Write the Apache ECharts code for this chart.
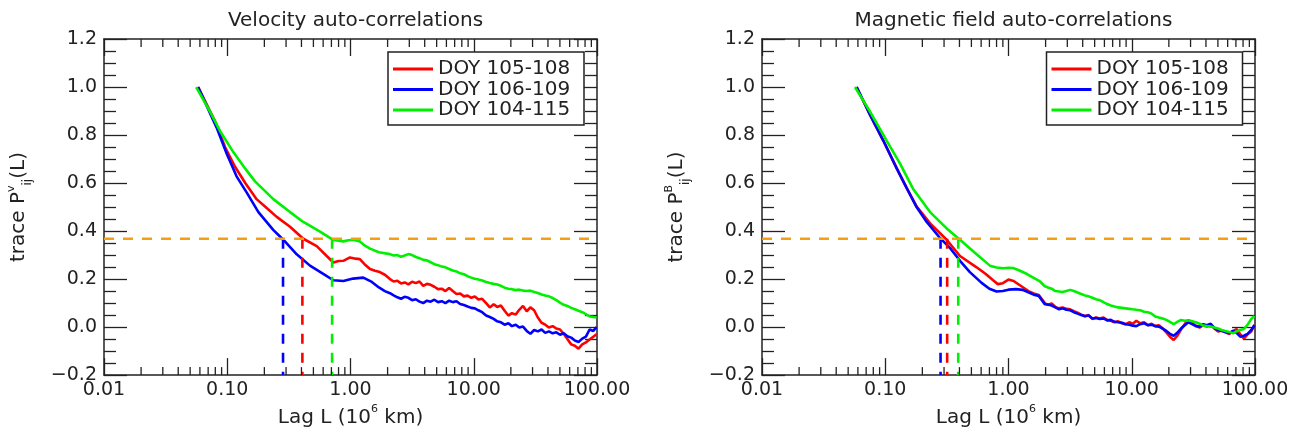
<!DOCTYPE html>
<html>
<head>
<meta charset="utf-8">
<script src="https://cdn.jsdelivr.net/npm/echarts@6/dist/echarts.min.js"></script>
<style>
html,body{margin:0;padding:0;background:#fff;}
#chart{width:1299px;height:433px;}
</style>
</head>
<body>
<div id="chart"></div>
<script>
// ---------------- data ----------------
const panelTitles = ['Velocity auto-correlations', 'Magnetic field auto-correlations'];
const seriesNames = ['DOY 105-108', 'DOY 106-109', 'DOY 104-115'];
const seriesColors = ['#FF0000', '#0000FF', '#00F000'];
const xTickLabels = ['0.01', '0.10', '1.00', '10.00', '100.00'];
const yTickLabels = ['\u22120.2', '0.0', '0.2', '0.4', '0.6', '0.8', '1.0', '1.2'];
const E_FOLD = 0.3679;

// lag grid shared by the noisy tails (10^6 km)
const lagsTail = [2.09, 2.24, 2.4, 2.57, 2.75, 2.95, 3.16, 3.39, 3.63, 3.89, 4.17, 4.47, 4.79, 5.13, 5.5, 5.89, 6.31, 6.76, 7.24, 7.76, 8.32, 8.91, 9.55, 10.2, 10.9, 11.7, 12.6, 13.5, 14.5, 15.5, 16.6, 17.8, 19.1, 20.4, 21.9, 23.4, 25.1, 26.9, 28.8, 30.9, 33.1, 35.5, 38.0, 40.7, 43.7, 46.8, 50.1, 53.7, 57.5, 61.7, 66.1, 70.8, 75.9, 81.3, 87.1, 93.3, 99.0];

// Velocity panel
const lagsRedV = [0.058, 0.0796, 0.0959, 0.1156, 0.140, 0.173, 0.21, 0.252, 0.323, 0.414, 0.532, 0.641, 0.726, 0.80, 0.875, 0.99, 1.10, 1.19, 1.30, 1.44, 1.58, 1.73, 1.90];
const valsRedV = [1.0, 0.858, 0.750, 0.668, 0.60, 0.533, 0.495, 0.459, 0.418, 0.368, 0.337, 0.296, 0.269, 0.275, 0.276, 0.290, 0.285, 0.283, 0.262, 0.242, 0.235, 0.229, 0.218];
const tailRedV = [0.200, 0.190, 0.193, 0.182, 0.186, 0.178, 0.189, 0.183, 0.190, 0.172, 0.180, 0.176, 0.168, 0.158, 0.160, 0.150, 0.163, 0.150, 0.138, 0.140, 0.128, 0.131, 0.122, 0.127, 0.115, 0.118, 0.100, 0.082, 0.095, 0.084, 0.090, 0.068, 0.048, 0.058, 0.052, 0.072, 0.088, 0.066, 0.082, 0.070, 0.040, 0.018, 0.010, -0.002, 0.004, -0.006, -0.010, -0.028, -0.050, -0.072, -0.078, -0.090, -0.072, -0.064, -0.052, -0.040, -0.030];

const lagsBlueV = [0.058, 0.082, 0.099, 0.119, 0.144, 0.179, 0.236, 0.285, 0.366, 0.469, 0.601, 0.726, 0.875, 1.05, 1.27, 1.49, 1.7, 1.9];
const valsBlueV = [1.0, 0.831, 0.722, 0.628, 0.560, 0.479, 0.405, 0.364, 0.303, 0.256, 0.222, 0.195, 0.192, 0.202, 0.206, 0.188, 0.165, 0.150];
const tailBlueV = [0.141, 0.132, 0.124, 0.118, 0.126, 0.122, 0.112, 0.116, 0.106, 0.100, 0.110, 0.106, 0.114, 0.104, 0.108, 0.100, 0.110, 0.104, 0.108, 0.096, 0.092, 0.086, 0.080, 0.078, 0.070, 0.062, 0.048, 0.042, 0.034, 0.024, 0.020, 0.010, 0.016, 0.004, 0.010, -0.002, 0.002, -0.016, -0.028, -0.012, -0.018, -0.010, -0.024, -0.018, -0.026, -0.022, -0.032, -0.026, -0.038, -0.044, -0.056, -0.062, -0.048, -0.040, -0.010, -0.016, 0.000];

const lagsGreenV = [0.056, 0.0724, 0.0873, 0.112, 0.140, 0.168, 0.2364, 0.323, 0.414, 0.566, 0.717, 0.80, 0.875, 0.96, 1.054, 1.19, 1.30, 1.44, 1.7];
const valsGreenV = [1.0, 0.898, 0.817, 0.729, 0.66, 0.607, 0.533, 0.479, 0.438, 0.398, 0.364, 0.360, 0.357, 0.362, 0.364, 0.357, 0.340, 0.327, 0.312];
const tailGreenV = [0.304, 0.298, 0.300, 0.293, 0.298, 0.304, 0.300, 0.292, 0.287, 0.280, 0.278, 0.270, 0.262, 0.258, 0.252, 0.249, 0.242, 0.236, 0.232, 0.224, 0.220, 0.212, 0.206, 0.201, 0.198, 0.194, 0.188, 0.184, 0.180, 0.177, 0.172, 0.164, 0.160, 0.158, 0.154, 0.156, 0.152, 0.150, 0.152, 0.146, 0.142, 0.136, 0.132, 0.128, 0.121, 0.112, 0.102, 0.093, 0.088, 0.080, 0.074, 0.068, 0.062, 0.054, 0.044, 0.042, 0.040];

const crossLagsV = [0.407, 0.2835, 0.709];

// Magnetic field panel
const lagsRedB = [0.0586, 0.0751, 0.0964, 0.1236, 0.149, 0.180, 0.231, 0.315, 0.404, 0.551, 0.65, 0.75, 0.82, 0.90, 1.0, 1.1, 1.29, 1.45, 1.6, 1.76, 1.97];
const valsRedB = [1.0, 0.885, 0.777, 0.662, 0.580, 0.502, 0.432, 0.364, 0.296, 0.249, 0.222, 0.195, 0.179, 0.183, 0.198, 0.192, 0.168, 0.150, 0.140, 0.134, 0.100];
const tailRedB = [0.092, 0.098, 0.084, 0.078, 0.082, 0.076, 0.074, 0.066, 0.060, 0.052, 0.046, 0.050, 0.034, 0.040, 0.036, 0.040, 0.030, 0.026, 0.020, 0.024, 0.016, 0.012, 0.020, 0.014, 0.026, 0.016, 0.020, 0.008, 0.014, 0.004, 0.008, -0.006, -0.022, -0.040, -0.054, -0.036, -0.010, 0.012, 0.030, 0.016, 0.006, -0.002, 0.008, 0.002, 0.012, -0.006, -0.018, -0.014, -0.022, -0.028, -0.018, -0.008, -0.030, -0.048, -0.030, -0.018, 0.010];

const lagsBlueB = [0.0586, 0.0751, 0.0964, 0.1236, 0.149, 0.180, 0.217, 0.278, 0.335, 0.404, 0.486, 0.605, 0.70, 0.80, 0.90, 1.0, 1.15, 1.3, 1.45, 1.6, 1.76, 1.97];
const valsBlueB = [1.0, 0.885, 0.777, 0.662, 0.580, 0.499, 0.438, 0.371, 0.330, 0.276, 0.229, 0.184, 0.160, 0.148, 0.150, 0.156, 0.158, 0.155, 0.145, 0.135, 0.130, 0.095];
const tailBlueB = [0.094, 0.090, 0.082, 0.074, 0.078, 0.072, 0.070, 0.062, 0.056, 0.050, 0.045, 0.048, 0.036, 0.038, 0.034, 0.036, 0.028, 0.030, 0.022, 0.020, 0.018, 0.012, 0.010, 0.006, 0.004, 0.012, 0.016, 0.008, 0.010, 0.004, 0.002, -0.006, -0.016, -0.028, -0.036, -0.024, -0.006, 0.008, 0.020, 0.012, 0.004, 0.002, 0.012, 0.008, 0.014, -0.004, -0.012, -0.016, -0.020, -0.026, -0.016, -0.024, -0.040, -0.036, -0.028, -0.012, 0.008];

const lagsGreenB = [0.0568, 0.0751, 0.1026, 0.1315, 0.169, 0.231, 0.315, 0.404, 0.551, 0.706, 0.80, 0.906, 1.0, 1.09, 1.2, 1.40, 1.6, 1.80, 1.97];
const valsGreenB = [1.0, 0.898, 0.777, 0.682, 0.574, 0.479, 0.411, 0.364, 0.303, 0.256, 0.248, 0.245, 0.247, 0.246, 0.238, 0.222, 0.205, 0.190, 0.170];
const tailGreenB = [0.165, 0.160, 0.150, 0.148, 0.146, 0.150, 0.155, 0.150, 0.144, 0.138, 0.132, 0.128, 0.122, 0.116, 0.112, 0.104, 0.096, 0.090, 0.086, 0.082, 0.080, 0.078, 0.076, 0.074, 0.072, 0.070, 0.064, 0.062, 0.056, 0.044, 0.040, 0.036, 0.030, 0.022, 0.012, 0.022, 0.030, 0.026, 0.028, 0.024, 0.020, 0.014, 0.006, 0.004, 0.002, -0.002, -0.006, -0.012, -0.016, -0.020, -0.026, -0.018, -0.012, -0.008, 0.010, 0.034, 0.046];

const crossLagsB = [0.318, 0.281, 0.391];

// minor tick positions on the log axis (multiples 2..9 in each decade)
const decadeStarts = [0.01, 0.1, 1, 10];
const minorMultipliers = [2, 3, 4, 5, 6, 7, 8, 9];

// ---------------- chart ----------------
const FONT = 'DejaVu Sans';
const INK = '#222';
const X_MIN = 0.01, X_MAX = 100, Y_MIN = -0.2, Y_MAX = 1.2, Y_STEP = 0.2;

const pairs = (xs, ys) => xs.map((x, i) => [x, ys[i]]);
const curve = (hx, hy, ty) => pairs(hx, hy).concat(pairs(lagsTail, ty));
const minorVals = [];
decadeStarts.forEach(d => minorMultipliers.forEach(m => minorVals.push([+(d * m).toPrecision(3), 0])));

const grids = [
  { left: 104, top: 39, width: 493, height: 345 },
  { left: 762, top: 39, width: 493, height: 345 }
];

function xAx(gi, pos) {
  return {
    type: 'log', logBase: 10, min: X_MIN, max: X_MAX, gridIndex: gi, position: pos,
    axisLine: { show: true, onZero: false, lineStyle: { color: INK, width: 1.5 } },
    axisTick: { show: true, inside: true, length: 17, lineStyle: { color: INK, width: 1.3 } },
    minorTick: { show: false },
    splitLine: { show: false },
    axisLabel: {
      show: pos === 'bottom', margin: 5, fontFamily: FONT, fontSize: 19, color: INK,
      formatter: v => xTickLabels[Math.round(Math.log10(v)) + 2]
    },
    name: pos === 'bottom' ? '{m|Lag L (10}{s|6}{m| km)}' : '',
    nameLocation: 'middle', nameGap: 25,
    nameTextStyle: {
      rich: {
        m: { fontFamily: FONT, fontSize: 20, color: INK, lineHeight: 24, verticalAlign: 'bottom' },
        s: { fontFamily: FONT, fontSize: 11, color: INK, lineHeight: 12, verticalAlign: 'top' }
      }
    }
  };
}
function yAx(gi, pos, sup) {
  return {
    type: 'value', min: Y_MIN, max: Y_MAX, interval: Y_STEP, gridIndex: gi, position: pos,
    axisLine: { show: true, onZero: false, lineStyle: { color: INK, width: 1.5 } },
    axisTick: { show: true, inside: true, length: 23, lineStyle: { color: INK, width: 1.3 } },
    minorTick: { show: true, splitNumber: 4, length: 12, lineStyle: { color: INK, width: 1.3 } },
    splitLine: { show: false },
    axisLabel: {
      show: pos === 'left', margin: 7, fontFamily: FONT, fontSize: 19, color: INK,
      formatter: v => yTickLabels[Math.round((v - Y_MIN) / Y_STEP)]
    },
    name: pos === 'left' ? '{m|trace P}{p|' + sup + '}{b|ij}{m|(L)}' : '',
    nameLocation: 'middle', nameRotate: 90, nameGap: 70,
    nameTextStyle: {
      rich: {
        m: { fontFamily: FONT, fontSize: 20, color: INK, lineHeight: 30, verticalAlign: 'middle' },
        p: { fontFamily: FONT, fontSize: 11, color: INK, lineHeight: 11, verticalAlign: 'top', padding: [2, 0, 0, 0] },
        b: { fontFamily: FONT, fontSize: 12, color: INK, lineHeight: 12, verticalAlign: 'bottom' }
      }
    }
  };
}

const xAxes = [xAx(0, 'bottom'), xAx(0, 'top'), xAx(1, 'bottom'), xAx(1, 'top')];
const yAxes = [yAx(0, 'left', 'v'), yAx(0, 'right', 'v'), yAx(1, 'left', 'B'), yAx(1, 'right', 'B')];

const series = [];
const panelData = [
  [curve(lagsRedV, valsRedV, tailRedV), curve(lagsBlueV, valsBlueV, tailBlueV), curve(lagsGreenV, valsGreenV, tailGreenV)],
  [curve(lagsRedB, valsRedB, tailRedB), curve(lagsBlueB, valsBlueB, tailBlueB), curve(lagsGreenB, valsGreenB, tailGreenB)]
];
const crossLags = [crossLagsV, crossLagsB];

[0, 1].forEach(p => {
  const xi = p * 2, yi = p * 2;
  panelData[p].forEach((d, k) => {
    series.push({
      type: 'line', name: seriesNames[k], xAxisIndex: xi, yAxisIndex: yi, data: d,
      showSymbol: false, symbol: 'none', smooth: false,
      lineStyle: { color: seriesColors[k], width: 2.6 }, itemStyle: { color: seriesColors[k] },
      z: 3 + k
    });
  });
  crossLags[p].forEach((lag, k) => {
    series.push({
      type: 'line', name: 'cross' + p + k, xAxisIndex: xi, yAxisIndex: yi,
      data: [[lag, E_FOLD], [lag, Y_MIN]],
      symbol: 'none', lineStyle: { color: seriesColors[k], width: 2.6, type: [10, 9] }, z: 6
    });
  });
  series.push({
    type: 'line', name: 'efold' + p, xAxisIndex: xi, yAxisIndex: yi,
    data: [[X_MIN, E_FOLD], [X_MAX, E_FOLD]],
    symbol: 'none', lineStyle: { color: '#F2A012', width: 2.6, type: [10, 9] }, z: 7
  });
  series.push({
    type: 'custom', name: 'minor' + p, xAxisIndex: xi, yAxisIndex: yi, data: minorVals, silent: true, z: 8,
    renderItem: (params, api) => {
      const x = api.coord([api.value(0), 0])[0];
      const cs = params.coordSys;
      const st = { stroke: INK, lineWidth: 1.3 };
      return {
        type: 'group', children: [
          { type: 'line', shape: { x1: x, y1: cs.y, x2: x, y2: cs.y + 8 }, style: st },
          { type: 'line', shape: { x1: x, y1: cs.y + cs.height, x2: x, y2: cs.y + cs.height - 8 }, style: st }
        ]
      };
    }
  });
});

function legendAt(left) {
  return {
    data: seriesNames, orient: 'vertical', left: left, top: 52,
    icon: 'rect', itemWidth: 40, itemHeight: 3, itemGap: 0.5,
    padding: [7, 0, 5, 5], borderColor: INK, borderWidth: 1.5, backgroundColor: '#fff',
    selectedMode: false,
    textStyle: { fontFamily: FONT, fontSize: 20, color: INK, lineHeight: 18, width: 146 }
  };
}

const titleStyle = { fontFamily: FONT, fontSize: 20, fontWeight: 'normal', color: INK };
const option = {
  animation: false,
  backgroundColor: '#fff',
  title: [
    { text: panelTitles[0], left: 350.5, textAlign: 'center', top: 6, textStyle: titleStyle },
    { text: panelTitles[1], left: 1008.5, textAlign: 'center', top: 6, textStyle: titleStyle }
  ],
  legend: [legendAt(388), legendAt(1046.5)],
  grid: grids,
  xAxis: xAxes,
  yAxis: yAxes,
  series: series
};

const chart = echarts.init(document.getElementById('chart'), null, { renderer: 'canvas' });
chart.setOption(option);
</script>
</body>
</html>
